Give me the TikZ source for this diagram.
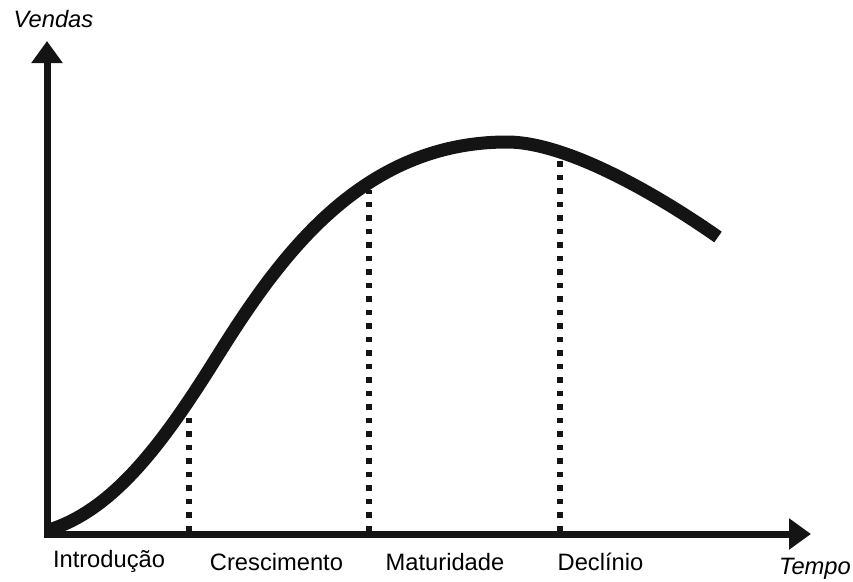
\documentclass[tikz,border=0pt]{standalone}
\usepackage{fontspec}
\setmainfont{Liberation Sans}
\usetikzlibrary{arrows.meta}
\begin{document}
\begin{tikzpicture}[x=1pt,y=-1pt,
  lbl/.style={inner sep=0pt,anchor=base,font=\fontsize{23.7}{28}\selectfont},
  axislbl/.style={lbl,font=\fontsize{23.7}{28}\selectfont\itshape},
  axisline/.style={line width=7pt,line join=miter,draw=black!92},
  guide/.style={line width=6pt,dash pattern=on 5.5pt off 8pt,draw=black!92},
  salescurve/.style={line width=13pt,line cap=butt,draw=black!92}]
\useasboundingbox (0,0) rectangle (853,581);
% coordinates
\coordinate (ytip) at (47,41);
\coordinate (origin) at (47,534);
\coordinate (xtip) at (811,534);
\coordinate (g1b) at (189,531);
\coordinate (g1t) at (189,418);
\coordinate (g2b) at (369,531);
\coordinate (g2t) at (369,190);
\coordinate (g3b) at (560,531);
\coordinate (g3t) at (560,158);
\coordinate (c0) at (49,530);
\coordinate (c1) at (215,360);
\coordinate (c2) at (507,142);
\coordinate (c3) at (718,237);
% guides
\draw[guide] (g1b) -- (g1t);
\draw[guide] (g2b) -- (g2t);
\draw[guide] (g3b) -- (g3t);
% axes
\draw[axisline,{Triangle[length=22pt,width=30pt]}-{Triangle[length=22pt,width=30pt]}] (ytip) -- (origin) -- (xtip);
% curve
\draw[salescurve] (c0) .. controls (112,510) and (160,448) .. (c1)
  .. controls (275,264) and (357,142) .. (c2)
  .. controls (567,142) and (658,195) .. (c3);
% labels
\node[axislbl] (vendas) at (53.5,27) {Vendas};
\node[axislbl] (tempo) at (815,574) {Tempo};
\node[lbl] (intro) at (109,567) {Introdução};
\node[lbl] (cresc) at (276.5,570) {Crescimento};
\node[lbl] (matur) at (445,570) {Maturidade};
\node[lbl] (decl) at (600.5,570) {Declínio};
\end{tikzpicture}
\end{document}
